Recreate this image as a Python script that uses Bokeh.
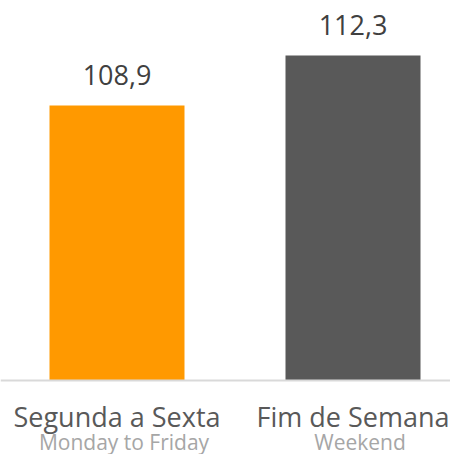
from bokeh.plotting import figure
from bokeh.models import Range1d, Span
from bokeh.core.properties import value
from bokeh.embed import file_html
from bokeh.resources import INLINE

categories = ["Segunda a Sexta", "Fim de Semana"]
subtitles = ["Monday to Friday", "Weekend"]
values = [108.9, 112.3]
value_labels = ["108,9", "112,3"]
bar_colors = ["#FF9900", "#595959"]

W, H = 450, 454
BASE = 90.2
PX_PER_UNIT = 14.706
X_SPACING = 236.0
X0_PX = 116.5
AXIS_PX = 380

xs = list(range(len(categories)))
x_start = -X0_PX / X_SPACING
x_end = x_start + W / X_SPACING
y_end = BASE + AXIS_PX / PX_PER_UNIT
y_start = BASE - (H - AXIS_PX) / PX_PER_UNIT

p = figure(width=W, height=H, output_backend="svg", toolbar_location=None,
           x_range=Range1d(x_start, x_end), y_range=Range1d(y_start, y_end),
           min_border=0, outline_line_color=None)
p.axis.visible = False
p.grid.visible = False
p.background_fill_color = "white"
p.border_fill_color = "white"

p.vbar(x=xs, top=values, bottom=BASE, width=135 / X_SPACING,
       fill_color=bar_colors, line_color=None)

p.add_layout(Span(location=BASE, dimension="width", line_color="#D9D9D9", line_width=2))

font = value("Open Sans")
p.text(x=xs, y=values, text=value_labels, text_align="center", text_baseline="alphabetic",
       y_offset=-30, text_font=font, text_font_size="27px", text_color="#404040")
p.text(x=xs, y=[BASE] * len(xs), text=categories, text_align="center", text_baseline="alphabetic",
       y_offset=36, text_font=font, text_font_size="27px", text_color="#595959")
p.text(x=xs, y=[BASE] * len(xs), text=subtitles, text_align="center", text_baseline="alphabetic",
       y_offset=61, x_offset=7, text_font=font, text_font_size="21px", text_color="#A6A6A6")

open("out.html", "w").write(file_html(p, INLINE))
